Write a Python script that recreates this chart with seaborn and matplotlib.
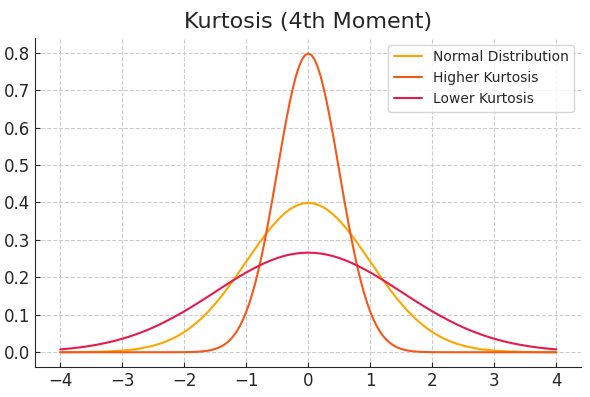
import matplotlib
matplotlib.use("Agg")
import matplotlib.pyplot as plt
import pandas as pd
import seaborn as sns

# x positions (right half, mirrored for the left half)
X_HALF = [round(i * 0.1, 1) for i in range(41)]
# the peaked curve is read more densely near its top
X_HALF_PEAKED = [round(i * 0.05, 2) for i in range(40)] + [round(2.0 + i * 0.1, 1) for i in range(21)]

NORMAL_HALF = [
    0.3989, 0.3970, 0.3910, 0.3814, 0.3683, 0.3521, 0.3332, 0.3123, 0.2897, 0.2661,
    0.2420, 0.2179, 0.1942, 0.1714, 0.1497, 0.1295, 0.1109, 0.0940, 0.0790, 0.0656,
    0.0540, 0.0440, 0.0355, 0.0283, 0.0224, 0.0175, 0.0136, 0.0104, 0.0079, 0.0060,
    0.0044, 0.0033, 0.0024, 0.0017, 0.0012, 0.0009, 0.0006, 0.0004, 0.0003, 0.0002,
    0.0001,
]
HIGHER_HALF = [
    0.7979, 0.7940, 0.7821, 0.7628, 0.7366, 0.7041, 0.6664, 0.6246, 0.5794, 0.5322,
    0.4839, 0.4358, 0.3884, 0.3429, 0.2995, 0.2590, 0.2218, 0.1880, 0.1580, 0.1312,
    0.1080, 0.0880, 0.0710, 0.0566, 0.0448, 0.0350, 0.0272, 0.0208, 0.0158, 0.0119,
    0.0089, 0.0065, 0.0048, 0.0034, 0.0025, 0.0017, 0.0012, 0.0008, 0.0006, 0.0004,
    0.0003, 0.0001, 0.0001, 0.0, 0.0, 0.0, 0.0, 0.0, 0.0, 0.0,
    0.0, 0.0, 0.0, 0.0, 0.0, 0.0, 0.0, 0.0, 0.0, 0.0,
    0.0,
]
LOWER_HALF = [
    0.2660, 0.2653, 0.2636, 0.2607, 0.2567, 0.2516, 0.2455, 0.2385, 0.2306, 0.2221,
    0.2130, 0.2033, 0.1931, 0.1827, 0.1720, 0.1613, 0.1505, 0.1399, 0.1295, 0.1192,
    0.1093, 0.0998, 0.0908, 0.0822, 0.0739, 0.0663, 0.0591, 0.0527, 0.0466, 0.0411,
    0.0360, 0.0314, 0.0273, 0.0237, 0.0204, 0.0175, 0.0149, 0.0127, 0.0108, 0.0091,
    0.0076,
]

LABELS = ["Normal Distribution", "Higher Kurtosis", "Lower Kurtosis"]
COLORS = ["#ffa500", "#f4581a", "#e8194b"]


def mirror(half, neg=False):
    left = [-v for v in half[::-1]] if neg else half[::-1]
    return left + half[1:]


frames = []
for label, xs, half in zip(LABELS,
                           [X_HALF, X_HALF_PEAKED, X_HALF],
                           [NORMAL_HALF, HIGHER_HALF, LOWER_HALF]):
    frames.append(pd.DataFrame({"x": mirror(xs, neg=True), "y": mirror(half), "dist": label}))
df = pd.concat(frames, ignore_index=True)

sns.set_style("ticks")
plt.rcParams["font.family"] = ["DejaVu Sans"]

fig, ax = plt.subplots(figsize=(5.9, 3.97), dpi=100)
sns.lineplot(data=df, x="x", y="y", hue="dist", hue_order=LABELS,
             palette=COLORS, linewidth=1.5, sort=False, ax=ax)

ax.set_title("Kurtosis (4th Moment)", fontsize=16, pad=7)
ax.set_xlabel("")
ax.set_ylabel("")
ax.set_xticks([-4, -3, -2, -1, 0, 1, 2, 3, 4])
ax.set_yticks([0.0, 0.1, 0.2, 0.3, 0.4, 0.5, 0.6, 0.7, 0.8])
ax.set_xlim(-4.4, 4.4)
ax.set_ylim(-0.04, 0.84)
ax.tick_params(direction="in", labelsize=12)
ax.grid(True, linestyle="--", color="#cccccc", linewidth=0.8)
sns.despine(ax=ax)
ax.legend(loc="upper right", fontsize=10, frameon=True)

fig.subplots_adjust(left=0.06, right=0.985, top=0.905, bottom=0.075)
fig.savefig("out.png", dpi=100)
